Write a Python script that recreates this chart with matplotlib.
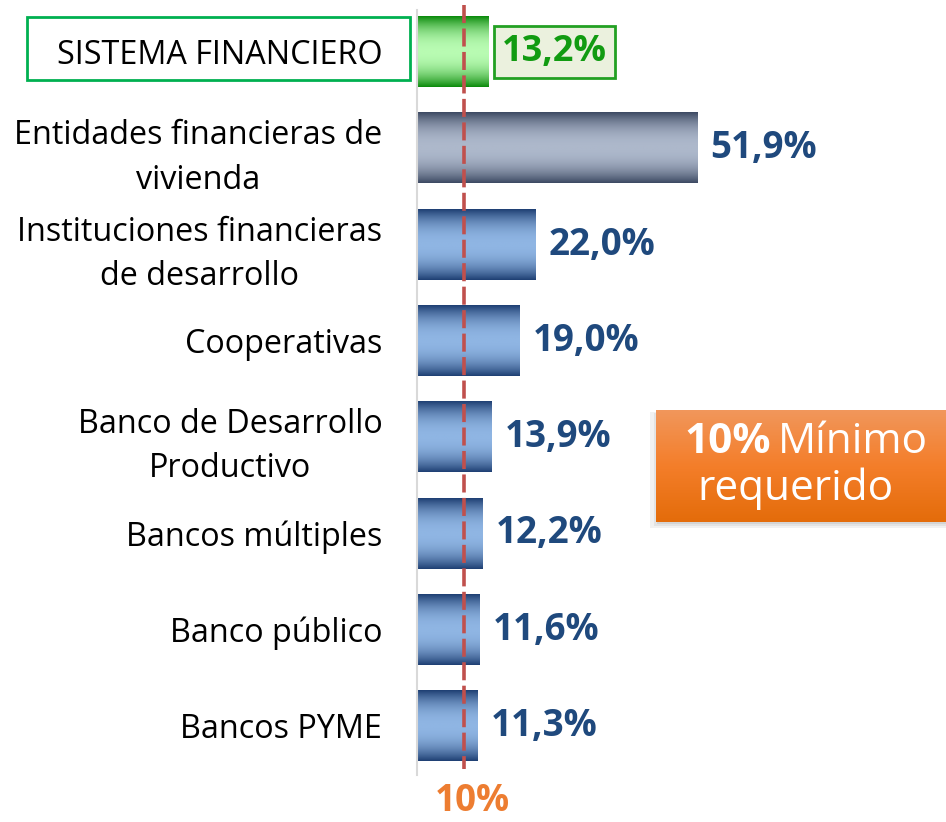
import matplotlib.pyplot as plt
import numpy as np
from matplotlib.patches import Rectangle
from matplotlib.colors import LinearSegmentedColormap

plt.rcParams['font.family'] = ['Open Sans', 'DejaVu Sans']

# data
categories = ['SISTEMA FINANCIERO',
              'Entidades financieras de\nvivienda',
              'Instituciones financieras\nde desarrollo',
              'Cooperativas',
              'Banco de Desarrollo\nProductivo',
              'Bancos múltiples',
              'Banco público',
              'Bancos PYME']
values = [13.2, 51.9, 22.0, 19.0, 13.9, 12.2, 11.6, 11.3]
value_labels = ['13,2%', '51,9%', '22,0%', '19,0%', '13,9%', '12,2%', '11,6%', '11,3%']
bar_kind = ['green', 'gray', 'blue', 'blue', 'blue', 'blue', 'blue', 'blue']
threshold_pos = 8.7   # where the dashed line sits in the picture
threshold_label = '10%'

W, H = 946, 822
fig = plt.figure(figsize=(W / 100, H / 100), dpi=100)

# bar area: x=417..946 px, y=10..775 px
ax = fig.add_axes([417 / W, (H - 775) / H, (W - 417) / W, 765 / H])

edge_cols = {'blue': '#1e3f73', 'gray': '#3c4962', 'green': '#0b8a0b'}
mid_cols = {'blue': '#8fb5e3', 'gray': '#adb8cb', 'green': '#b8fbb2'}
text_cols = {'blue': '#1f497d', 'gray': '#1f497d', 'green': '#119b11'}

t = np.linspace(0, 1, 200)
prof = np.abs(2 * t - 1) ** 2.2
grad = prof.reshape(-1, 1)

bar_h = 0.73
for i, (v, kind, lab) in enumerate(zip(values, bar_kind, value_labels)):
    cmap = LinearSegmentedColormap.from_list(kind, [mid_cols[kind], edge_cols[kind]])
    ax.imshow(grad, extent=[0, v, i + bar_h / 2, i - bar_h / 2], aspect='auto',
              cmap=cmap, vmin=0, vmax=1, interpolation='bilinear', zorder=2)
    if kind == 'green':
        ax.text(v + 2.5, i, lab, ha='left', va='center', fontsize=26, fontweight='bold',
                color=text_cols[kind],
                bbox=dict(boxstyle='square,pad=0.22', fc='#ebf1de', ec='#22a022', lw=2))
    else:
        ax.text(v + 2.4, i, lab, ha='left', va='center', fontsize=26.5, fontweight='bold',
                color=text_cols[kind])

ax.set_xlim(0, (W - 417) / 5.395)
ax.set_ylim(7.509, -0.436)
ax.set_yticks(range(len(categories)))
ax.set_yticklabels(categories, fontsize=23.3, multialignment='center', linespacing=1.45)
ax.tick_params(axis='y', length=0, pad=25)
ax.set_xticks([])
for s in ['top', 'right', 'bottom']:
    ax.spines[s].set_visible(False)
ax.spines['left'].set_color('#d9d9d9')
ax.spines['left'].set_linewidth(1.5)

# dashed threshold line
ax.plot([threshold_pos, threshold_pos], [-0.49, 7.45], color='#c0504d', lw=2.6,
        ls=(0, (5, 1.5)), zorder=3, clip_on=False)
ax.text(threshold_pos + 1.6, 7.78, threshold_label, ha='center', va='center',
        fontsize=26.5, fontweight='bold', color='#ed7d31', clip_on=False)

# box around first label
fig.patches.append(Rectangle((27 / W, (H - 80) / H), 383 / W, 63 / H,
                             transform=fig.transFigure, fill=False,
                             ec='#00b050', lw=2))

# orange note box with soft shadow
shadow = fig.add_axes([650 / W, (H - 528) / H, 296 / W, 116 / H])
for k, a in enumerate([0.10, 0.12, 0.14]):
    d = 0.012 * k
    shadow.add_patch(Rectangle((d, d * 1.5), 1 - d, 1 - d * 2.5, fc='#7f7f7f', ec='none', alpha=a))
shadow.set_xlim(0, 1)
shadow.set_ylim(0, 1)
shadow.axis('off')
shadow.set_zorder(1)
bx = fig.add_axes([656 / W, (H - 522) / H, 290 / W, 112 / H])
bx.set_zorder(2)
og = np.linspace(0, 1, 100).reshape(-1, 1)
ocmap = LinearSegmentedColormap.from_list('org', ['#f1975c', '#f47e2a', '#e46c0a'])
bx.imshow(og, extent=[0, 1, 1, 0], aspect='auto', cmap=ocmap)
bx.set_xlim(0, 1)
bx.set_ylim(1, 0)
bx.axis('off')
bx.text(0.395, 0.71, '10%', ha='right', va='center', fontsize=30.5, fontweight='bold',
        color='white', transform=bx.transAxes)
bx.text(0.42, 0.71, 'Mínimo', ha='left', va='center', fontsize=30.5,
        color='white', transform=bx.transAxes)
bx.text(0.48, 0.30, 'requerido', ha='center', va='center', fontsize=30.5,
        color='white', transform=bx.transAxes)

fig.savefig('out.png', dpi=100)
